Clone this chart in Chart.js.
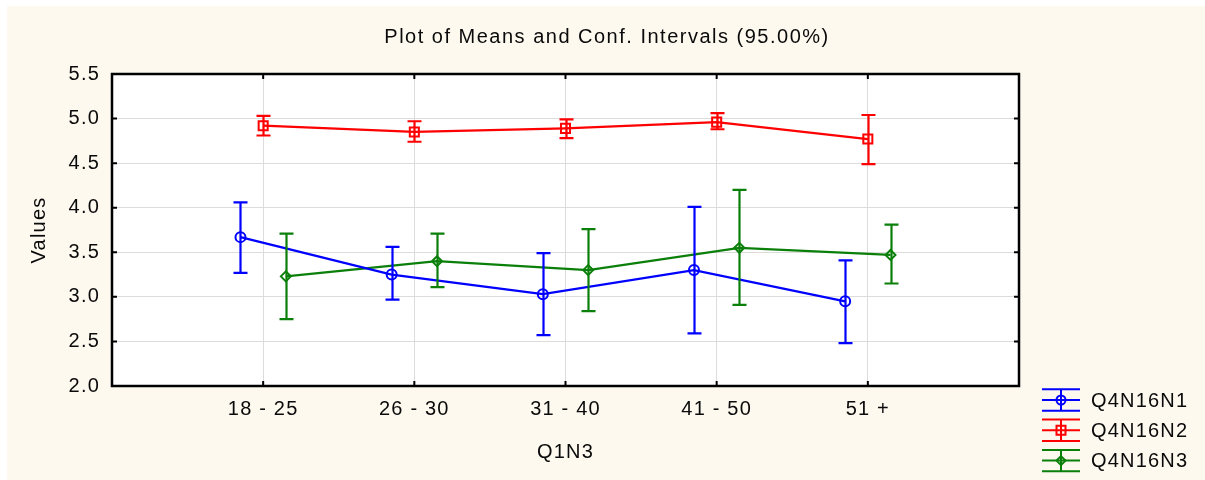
<!DOCTYPE html>
<html>
<head>
<meta charset="utf-8">
<title>Plot of Means and Conf. Intervals</title>
<script src="https://cdn.jsdelivr.net/npm/chart.js@4.4.1/dist/chart.umd.min.js"></script>
<style>
	body { margin: 0; background: #ffffff; }
	#Chart_Box { width: 1205px; height: 480px; }
</style>
</head>
<body>
<div id="Chart_Box"><canvas id="Chart_Means" width="1205" height="480"></canvas></div>
<script>
// age groups on the x axis
const categories = ['18 - 25', '26 - 30', '31 - 40', '41 - 50', '51 +'];

// means with lower / upper 95% limits
const n1_mean  = [3.67, 3.25, 3.03, 3.30, 2.95];
const n1_lower = [3.27, 2.97, 2.57, 2.59, 2.48];
const n1_upper = [4.06, 3.56, 3.49, 4.01, 3.41];

const n2_mean  = [4.92, 4.85, 4.89, 4.96, 4.77];
const n2_lower = [4.81, 4.74, 4.78, 4.88, 4.49];
const n2_upper = [5.03, 4.97, 4.99, 5.06, 5.04];

const n3_mean  = [3.23, 3.40, 3.30, 3.55, 3.47];
const n3_lower = [2.75, 3.11, 2.84, 2.91, 3.15];
const n3_upper = [3.71, 3.71, 3.76, 4.20, 3.81];

const series_names = ['Q4N16N1', 'Q4N16N2', 'Q4N16N3'];

const FONT = '"Liberation Sans", Arial, sans-serif';
const TEXT = '#0a0a0a';
const CREAM = '#fdf9ef';
const BLUE = '#0000ff';
const RED = '#ff0000';
const GREEN = '#0a7f0a';

// series are nudged sideways so the bars don't overlap
const SHIFT = 0.15;

function make_points(means, shift) {
	const points = [];
	let idx = 0;
	while(idx < means.length) {
		points[idx] = { x: idx + 1 + shift, y: means[idx] };
		idx++;
	}
	return points;
}

function draw_marker(ctx, style, x, y, color) {
	ctx.save();
	ctx.strokeStyle = color;
	ctx.lineWidth = 2;
	ctx.beginPath();
	if(style === 'circle') {
		ctx.arc(x, y, 4.5, 0, Math.PI * 2);
	}
	else if(style === 'rect') {
		ctx.rect(x - 4.5, y - 4.5, 9, 9);
	}
	else {
		ctx.moveTo(x, y - 4.5);
		ctx.lineTo(x + 4.5, y);
		ctx.lineTo(x, y + 4.5);
		ctx.lineTo(x - 4.5, y);
		ctx.closePath();
	}
	ctx.stroke();
	ctx.restore();
}

const series_list = [
	{ color: BLUE, marker: 'circle', shift: -SHIFT, lower: n1_lower, upper: n1_upper },
	{ color: RED, marker: 'rect', shift: 0, lower: n2_lower, upper: n2_upper },
	{ color: GREEN, marker: 'rectRot', shift: SHIFT, lower: n3_lower, upper: n3_upper }
];

//=============================================================================================================================

const means_plugin = {
	id: 'means_plot',

	beforeDraw(chart) {
		const ctx = chart.ctx;
		ctx.save();
		ctx.fillStyle = CREAM;
		ctx.fillRect(7, 6, chart.width - 7, chart.height - 6);
		ctx.fillStyle = '#ffffff';
		const a = chart.chartArea;
		ctx.fillRect(a.left, a.top, a.right - a.left, a.bottom - a.top);
		ctx.restore();
		ctx.letterSpacing = '1.2px';
	},

	afterDatasetsDraw(chart) {
		// confidence interval whiskers
		const ctx = chart.ctx;
		const xs = chart.scales.x;
		const ys = chart.scales.y;
		ctx.save();
		ctx.lineWidth = 2.2;
		series_list.forEach(function(s) {
			ctx.strokeStyle = s.color;
			let idx = 0;
			while(idx < s.lower.length) {
				const px = Math.round(xs.getPixelForValue(idx + 1 + s.shift)) + 0.5;
				const top = ys.getPixelForValue(s.upper[idx]);
				const bot = ys.getPixelForValue(s.lower[idx]);
				ctx.beginPath();
				ctx.moveTo(px, top);
				ctx.lineTo(px, bot);
				ctx.moveTo(px - 7, top);
				ctx.lineTo(px + 7, top);
				ctx.moveTo(px - 7, bot);
				ctx.lineTo(px + 7, bot);
				ctx.stroke();
				idx++;
			}
		});
		ctx.restore();
	},

	afterDraw(chart) {
		const ctx = chart.ctx;
		const a = chart.chartArea;
		const xs = chart.scales.x;
		const ys = chart.scales.y;

		ctx.save();
		ctx.strokeStyle = '#000000';

		// inward tick marks on all four sides
		ctx.lineWidth = 2;
		ctx.beginPath();
		let c = 1;
		while(c <= categories.length) {
			const px = xs.getPixelForValue(c);
			ctx.moveTo(px, a.top);
			ctx.lineTo(px, a.top + 5);
			ctx.moveTo(px, a.bottom);
			ctx.lineTo(px, a.bottom - 5);
			c++;
		}
		ys.ticks.forEach(function(t) {
			const py = ys.getPixelForValue(t.value);
			ctx.moveTo(a.left, py);
			ctx.lineTo(a.left + 5, py);
			ctx.moveTo(a.right, py);
			ctx.lineTo(a.right - 5, py);
		});
		ctx.stroke();

		// plot frame
		ctx.lineWidth = 2.5;
		ctx.strokeRect(a.left, a.top, a.right - a.left, a.bottom - a.top);

		// title
		ctx.letterSpacing = '1.5px';
		ctx.fillStyle = TEXT;
		ctx.font = '20px ' + FONT;
		ctx.textAlign = 'center';
		ctx.textBaseline = 'middle';
		ctx.fillText('Plot of Means and Conf. Intervals (95.00%)', 607, 37);

		// legend with whisker symbols
		ctx.letterSpacing = '1.2px';
		ctx.textAlign = 'left';
		series_list.forEach(function(s, i) {
			const cy = 400 + i * 30.3;
			ctx.strokeStyle = s.color;
			ctx.lineWidth = 2;
			ctx.beginPath();
			ctx.moveTo(1042, cy - 10.7);
			ctx.lineTo(1080, cy - 10.7);
			ctx.moveTo(1042, cy + 10.7);
			ctx.lineTo(1080, cy + 10.7);
			ctx.moveTo(1042, cy);
			ctx.lineTo(1080, cy);
			ctx.moveTo(1061, cy - 10.7);
			ctx.lineTo(1061, cy + 10.7);
			ctx.stroke();
			draw_marker(ctx, s.marker, 1061, cy, s.color);
			ctx.fillStyle = TEXT;
			ctx.fillText(series_names[i], 1091, cy + 1);
		});
		ctx.restore();
	}
};

//=============================================================================================================================

function init() {

	const chart_ctx = document.getElementById('Chart_Means').getContext('2d');

	const chart_data = {
		datasets: [{
			label: series_names[0],
			borderColor: BLUE,
			data: make_points(n1_mean, -SHIFT),
			pointStyle: 'circle',
			pointRadius: 5
		}, {
			label: series_names[1],
			borderColor: RED,
			data: make_points(n2_mean, 0),
			pointStyle: 'rect',
			pointRadius: 6.4
		}, {
			label: series_names[2],
			borderColor: GREEN,
			data: make_points(n3_mean, SHIFT),
			pointStyle: 'rectRot',
			pointRadius: 5
		}]
	};

	chart_data.datasets.forEach(function(d) {
		d.borderWidth = 2.2;
		d.backgroundColor = 'rgba(0,0,0,0)';
		d.pointBorderColor = d.borderColor;
		d.pointBorderWidth = 2;
		d.pointBackgroundColor = 'rgba(0,0,0,0)';
		d.tension = 0;
		d.fill = false;
	});

	const axis_font = { family: FONT, size: 20 };

	const options = {
		responsive: false,
		animation: false,
		devicePixelRatio: 1,
		font: { family: FONT, size: 20 },
		layout: {
			padding: { left: 7, top: 74, right: 186, bottom: 0 }
		},
		plugins: {
			legend: { display: false },
			tooltip: { enabled: false }
		},
		scales: {
			x: {
				type: 'linear',
				min: 0,
				max: 6,
				afterFit: function(s) { s.height = 94; },
				grid: { color: '#dcdcdc', lineWidth: 1, drawTicks: false },
				border: { display: false },
				ticks: {
					stepSize: 1,
					autoSkip: false,
					maxRotation: 0,
					padding: 11,
					color: TEXT,
					font: axis_font,
					callback: function(v) { return categories[v - 1] !== undefined ? categories[v - 1] : ''; }
				},
				title: {
					display: true,
					text: 'Q1N3',
					color: TEXT,
					font: axis_font,
					padding: { top: 0, bottom: 16 }
				}
			},
			y: {
				min: 2,
				max: 5.5,
				afterFit: function(s) { s.width = 105; },
				grid: { color: '#dcdcdc', lineWidth: 1, drawTicks: false },
				border: { display: false },
				ticks: {
					stepSize: 0.5,
					padding: 12,
					color: TEXT,
					font: axis_font,
					callback: function(v) { return v.toFixed(1); }
				},
				title: {
					display: true,
					text: 'Values',
					color: TEXT,
					font: axis_font,
					padding: { top: 20, bottom: 0 }
				}
			}
		}
	};

	const config = {
		type: 'line',
		data: chart_data,
		options: options,
		plugins: [means_plugin]
	};

	return new Chart(chart_ctx, config);
}

window.onload = init;
</script>
</body>
</html>
